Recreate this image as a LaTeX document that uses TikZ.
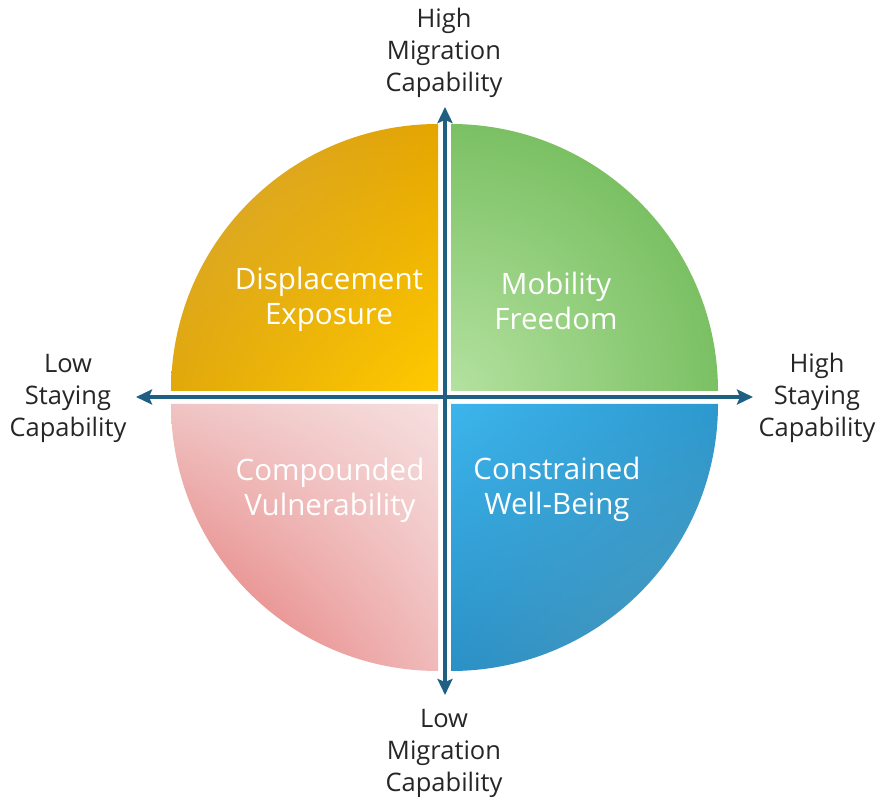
\documentclass[tikz,border=0pt]{standalone}
\usepackage{fontspec}
\setmainfont{Open Sans}
\usetikzlibrary{arrows.meta,shadings}

\definecolor{axisblue}{RGB}{31,96,130}
\definecolor{gLight}{RGB}{180,225,160}
\definecolor{gMid}{RGB}{146,206,124}
\definecolor{gDark}{RGB}{108,184,84}
\definecolor{gOuter}{RGB}{120,194,90}
\definecolor{yUL}{RGB}{212,165,58}
\definecolor{yUR}{RGB}{228,165,0}
\definecolor{yLL}{RGB}{226,168,10}
\definecolor{yLR}{RGB}{255,202,0}
\definecolor{pUL}{RGB}{240,196,196}
\definecolor{pUR}{RGB}{246,222,222}
\definecolor{pLL}{RGB}{226,110,106}
\definecolor{pLR}{RGB}{240,186,186}
\definecolor{bUL}{RGB}{60,181,236}
\definecolor{bUR}{RGB}{44,152,206}
\definecolor{bLL}{RGB}{42,144,198}
\definecolor{bLR}{RGB}{80,150,182}

% radial fill for the green quadrant, lightest at the centre of the disc
\pgfdeclareradialshading{greenq}{\pgfpoint{0bp}{0bp}}{%
  color(0bp)=(gLight); color(9bp)=(gMid); color(19bp)=(gDark);
  color(28bp)=(gOuter); color(50bp)=(gOuter)}

\tikzset{
  quadlabel/.style={text=white, align=center,
    font=\fontsize{29.5}{35}\selectfont},
  axislabel/.style={text=black!85, align=center,
    font=\fontsize{25.5}{32}\selectfont},
  axisarrow/.style={draw=axisblue, line width=4.5pt,
    {Stealth[length=16pt,width=15pt,inset=3pt]}-{Stealth[length=16pt,width=15pt,inset=3pt]}},
}

\begin{document}
\begin{tikzpicture}[x=1pt,y=1pt]
\useasboundingbox (0,0) rectangle (879,796);

% four quarter discs
\shade[upper left=yUL, upper right=yUR, lower left=yLL, lower right=yLR]
  (438,405) -- (171,405) arc[start angle=180,end angle=90,radius=267] -- cycle;

\begin{scope}
  \clip (451,405) -- (451,672) arc[start angle=90,end angle=0,radius=267] -- cycle;
  \shade[shading=greenq] (451,405) circle[radius=440];
\end{scope}

\shade[upper left=pUL, upper right=pUR, lower left=pLL, lower right=pLR]
  (438,392) -- (438,125) arc[start angle=270,end angle=180,radius=267] -- cycle;

\shade[upper left=bUL, upper right=bUR, lower left=bLL, lower right=bLR]
  (451,392) -- (718,392) arc[start angle=0,end angle=-90,radius=267] -- cycle;

% quadrant names
\node[quadlabel] (disp) at (329,497) {Displacement\\Exposure};
\node[quadlabel] (mob)  at (556,495) {Mobility\\Freedom};
\node[quadlabel] (comp) at (330,306) {Compounded\\Vulnerability};
\node[quadlabel] (cons) at (557,307) {Constrained\\Well-Being};

% axes
\coordinate (ytop) at (445,689);
\coordinate (ybot) at (445,101);
\coordinate (xleft) at (136,399);
\coordinate (xright) at (753,399);
\draw[axisarrow] (ybot) -- (ytop);
\draw[axisarrow] (xleft) -- (xright);

% axis captions
\node[axislabel] (hm) at (444,743) {High\\Migration\\Capability};
\node[axislabel] (lm) at (444,43)  {Low\\Migration\\Capability};
\node[axislabel] (ls) at (68,398)  {Low\\Staying\\Capability};
\node[axislabel] (hs) at (817,398) {High\\Staying\\Capability};
\end{tikzpicture}
\end{document}
